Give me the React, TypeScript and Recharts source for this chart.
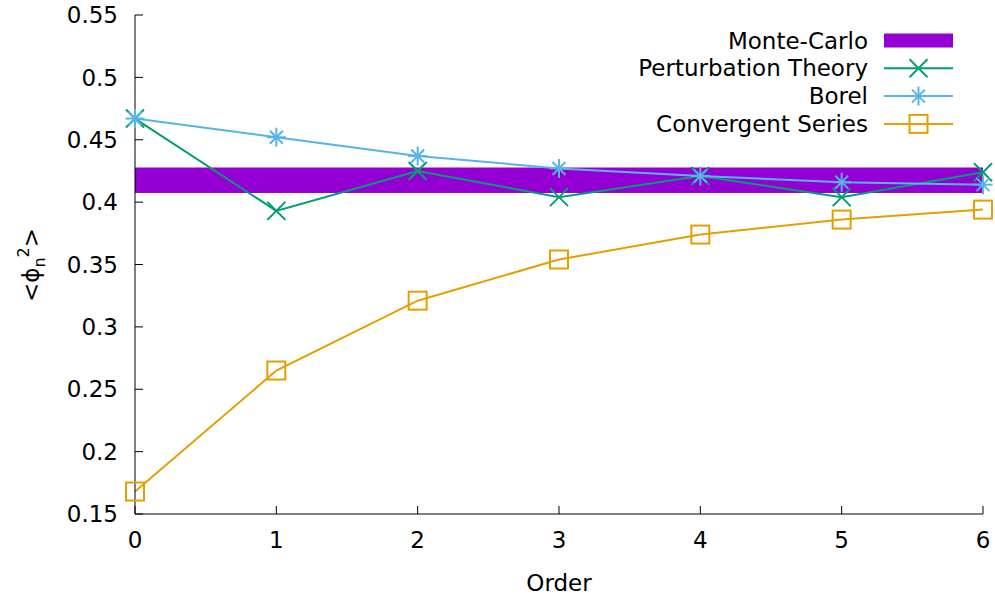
import React from "react";
import {
  LineChart,
  Line,
  XAxis,
  YAxis,
  ReferenceArea,
} from "recharts";

const ORDERS = [0, 1, 2, 3, 4, 5, 6];
const PERTURBATION = [0.467, 0.393, 0.425, 0.404, 0.421, 0.404, 0.424];
const BOREL = [0.467, 0.452, 0.437, 0.427, 0.421, 0.416, 0.414];
const CONVERGENT = [0.168, 0.265, 0.321, 0.354, 0.374, 0.386, 0.394];
const MC_LOW = 0.4074;
const MC_HIGH = 0.4278;
const Y_TICKS = [0.15, 0.2, 0.25, 0.3, 0.35, 0.4, 0.45, 0.5, 0.55];
const Y_TICK_LABELS = ["0.15", "0.2", "0.25", "0.3", "0.35", "0.4", "0.45", "0.5", "0.55"];

const FONT = "'DejaVu Sans', Verdana, sans-serif";
const FS = 23;

const COLORS = {
  mc: "#9400d3",
  pert: "#009e73",
  borel: "#56b4e9",
  conv: "#e69f00",
  axis: "#000000",
};

const data = ORDERS.map((order, i) => ({
  order,
  pert: PERTURBATION[i],
  borel: BOREL[i],
  conv: CONVERGENT[i],
}));

function CrossDot({ cx, cy }: any) {
  const s = 9;
  return (
    <g stroke={COLORS.pert} strokeWidth={2}>
      <line x1={cx - s} y1={cy - s} x2={cx + s} y2={cy + s} />
      <line x1={cx - s} y1={cy + s} x2={cx + s} y2={cy - s} />
    </g>
  );
}

function StarDot({ cx, cy }: any) {
  const s = 9.5;
  const d = 6.5;
  return (
    <g stroke={COLORS.borel} strokeWidth={2}>
      <line x1={cx - s} y1={cy} x2={cx + s} y2={cy} />
      <line x1={cx} y1={cy - s} x2={cx} y2={cy + s} />
      <line x1={cx - d} y1={cy - d} x2={cx + d} y2={cy + d} />
      <line x1={cx - d} y1={cy + d} x2={cx + d} y2={cy - d} />
    </g>
  );
}

function SquareDot({ cx, cy }: any) {
  const s = 9;
  return (
    <rect
      x={cx - s}
      y={cy - s}
      width={2 * s}
      height={2 * s}
      fill="none"
      stroke={COLORS.conv}
      strokeWidth={2}
    />
  );
}

const emptyTick = () => <g />;

function YLabel() {
  return (
    <text
      transform="translate(39,265) rotate(-90)"
      textAnchor="middle"
      fontFamily={FONT}
      fontSize={FS}
      fill="#000"
    >
      {"<ϕ"}
      <tspan fontSize={16} dy={6}>n</tspan>
      <tspan fontSize={16} dy={-16}>2</tspan>
      <tspan dy={10}>{">"}</tspan>
    </text>
  );
}

function LegendBox() {
  const rows = [
    { label: "Monte-Carlo", key: "mc" },
    { label: "Perturbation Theory", key: "pert" },
    { label: "Borel", key: "borel" },
    { label: "Convergent Series", key: "conv" },
  ];
  const x0 = 884;
  const x1 = 953;
  const xm = (x0 + x1) / 2;
  return (
    <svg
      width={995}
      height={601}
      style={{ position: "absolute", left: 0, top: 0, pointerEvents: "none" }}
    >
      {rows.map((r, i) => {
        const cy = 40.5 + i * 27.8;
        return (
          <g key={r.key}>
            <text
              x={868}
              y={cy + 8}
              textAnchor="end"
              fontFamily={FONT}
              fontSize={FS}
              fill="#000"
            >
              {r.label}
            </text>
            {r.key === "mc" ? (
              <rect x={x0} y={cy - 7} width={x1 - x0} height={14} fill={COLORS.mc} />
            ) : (
              <g>
                <line
                  x1={x0}
                  y1={cy}
                  x2={x1}
                  y2={cy}
                  stroke={(COLORS as any)[r.key]}
                  strokeWidth={2}
                />
                {r.key === "pert" && <CrossDot cx={xm} cy={cy} />}
                {r.key === "borel" && <StarDot cx={xm} cy={cy} />}
                {r.key === "conv" && <SquareDot cx={xm} cy={cy} />}
              </g>
            )}
          </g>
        );
      })}
    </svg>
  );
}

export default function App() {
  const tickStyle = { fontSize: FS, fill: "#000", fontFamily: FONT };
  return (
    <div
      style={{
        position: "absolute",
        left: 0,
        top: 0,
        width: 995,
        height: 601,
        background: "#fff",
      }}
    >
      <LineChart
        width={995}
        height={601}
        data={data}
        margin={{ top: 15, right: 12, left: 55, bottom: 7 }}
      >
        <ReferenceArea
          x1={0}
          x2={6}
          y1={MC_LOW}
          y2={MC_HIGH}
          fill={COLORS.mc}
          fillOpacity={1}
          stroke="none"
          ifOverflow="visible"
        />
        <XAxis
          dataKey="order"
          type="number"
          domain={[0, 6]}
          ticks={ORDERS}
          height={80}
          tickSize={-8}
          tickMargin={26}
          tick={tickStyle}
          stroke={COLORS.axis}
          tickLine={{ stroke: COLORS.axis }}
          label={{
            value: "Order",
            position: "insideBottom",
            offset: 3,
            fontSize: FS,
            fill: "#000",
            fontFamily: FONT,
          }}
        />
        <XAxis
          xAxisId="top"
          orientation="top"
          type="number"
          domain={[0, 6]}
          ticks={ORDERS}
          height={0}
          tickSize={-8}
          tick={emptyTick}
          stroke={COLORS.axis}
        />
        <YAxis
          type="number"
          domain={[0.15, 0.55]}
          ticks={Y_TICKS}
          tickFormatter={(v: number) => Y_TICK_LABELS[Y_TICKS.indexOf(v)] ?? String(v)}
          width={80}
          tickSize={-8}
          tickMargin={25}
          tick={tickStyle}
          stroke={COLORS.axis}
          interval={0}
        />
        <YAxis
          yAxisId="right"
          orientation="right"
          type="number"
          domain={[0.15, 0.55]}
          ticks={Y_TICKS}
          width={0}
          tickSize={-8}
          tick={emptyTick}
          stroke={COLORS.axis}
          interval={0}
        />
        <Line
          type="linear"
          dataKey="pert"
          stroke={COLORS.pert}
          strokeWidth={2}
          dot={<CrossDot />}
          isAnimationActive={false}
        />
        <Line
          type="linear"
          dataKey="borel"
          stroke={COLORS.borel}
          strokeWidth={2}
          dot={<StarDot />}
          isAnimationActive={false}
        />
        <Line
          type="linear"
          dataKey="conv"
          stroke={COLORS.conv}
          strokeWidth={2}
          dot={<SquareDot />}
          isAnimationActive={false}
        />
      </LineChart>
      <svg
        width={995}
        height={601}
        style={{ position: "absolute", left: 0, top: 0, pointerEvents: "none" }}
      >
        <YLabel />
      </svg>
      <LegendBox />
    </div>
  );
}
